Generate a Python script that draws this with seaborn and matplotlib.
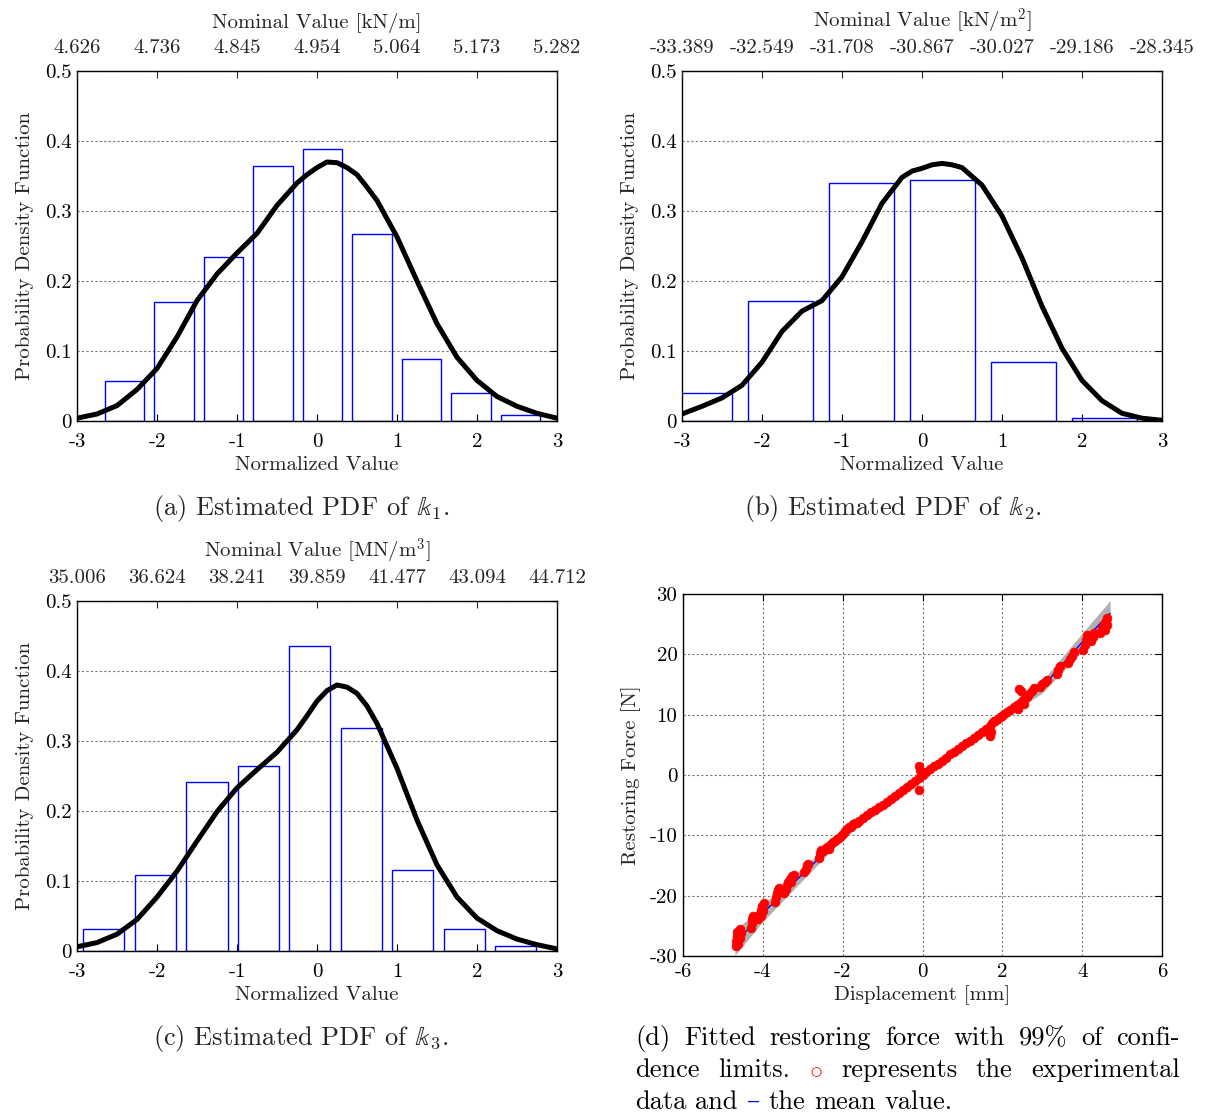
import numpy as np
import pandas as pd
import matplotlib
matplotlib.use('Agg')
import matplotlib.pyplot as plt
import seaborn as sns

# axis ticks shared by the three histograms
norm_ticks = [-3, -2, -1, 0, 1, 2, 3]
pdf_ticks = [0, 0.1, 0.2, 0.3, 0.4, 0.5]
pdf_tick_labels = ['0', '0.1', '0.2', '0.3', '0.4', '0.5']

k1_nominal = ['4.626', '4.736', '4.845', '4.954', '5.064', '5.173', '5.282']
k2_nominal = ['-33.389', '-32.549', '-31.708', '-30.867', '-30.027', '-29.186', '-28.345']
k3_nominal = ['35.006', '36.624', '38.241', '39.859', '41.477', '43.094', '44.712']

# histogram bins (normalized value) and pdf heights
k1_bins = [-2.405, -1.786, -1.167, -0.548, 0.069, 0.686, 1.305, 1.924, 2.543]
k1_hist = [0.057, 0.170, 0.235, 0.364, 0.389, 0.267, 0.089, 0.040, 0.008]
k2_bins = [-2.786, -1.773, -0.760, 0.253, 1.270, 2.283]
k2_hist = [0.040, 0.172, 0.340, 0.345, 0.084, 0.005]
k3_bins = [-2.663, -2.020, -1.375, -0.734, -0.089, 0.552, 1.195, 1.838, 2.480]
k3_hist = [0.031, 0.109, 0.241, 0.264, 0.436, 0.319, 0.116, 0.031, 0.007]

# estimated pdf curves
k1_x = [-3, -2.75, -2.5, -2.25, -2, -1.75, -1.5, -1.25, -1, -0.75, -0.5, -0.25, -0.125, 0,
        0.125, 0.25, 0.375, 0.5, 0.625, 0.75, 1, 1.25, 1.5, 1.75, 2, 2.25, 2.5, 2.75, 3]
k1_curve = [0.004, 0.010, 0.022, 0.045, 0.075, 0.120, 0.172, 0.210, 0.240, 0.268, 0.308, 0.340, 0.352,
            0.362, 0.370, 0.369, 0.362, 0.352, 0.334, 0.315, 0.263, 0.200, 0.139, 0.091, 0.058,
            0.035, 0.021, 0.011, 0.004]
k2_x = [-3, -2.75, -2.5, -2.25, -2, -1.75, -1.5, -1.25, -1, -0.75, -0.5, -0.25, -0.125, 0,
        0.125, 0.25, 0.375, 0.5, 0.75, 1, 1.25, 1.5, 1.75, 2, 2.25, 2.5, 2.75, 3]
k2_curve = [0.010, 0.021, 0.033, 0.051, 0.084, 0.128, 0.157, 0.172, 0.206, 0.256, 0.311, 0.348, 0.357,
            0.361, 0.366, 0.368, 0.366, 0.362, 0.337, 0.293, 0.233, 0.164, 0.104, 0.058, 0.029,
            0.011, 0.004, 0.001]
k3_x = [-3, -2.75, -2.5, -2.25, -2, -1.75, -1.5, -1.25, -1, -0.75, -0.5, -0.25, -0.125, 0,
        0.125, 0.25, 0.375, 0.5, 0.625, 0.75, 1, 1.25, 1.5, 1.75, 2, 2.25, 2.5, 2.75, 3]
k3_curve = [0.006, 0.012, 0.024, 0.045, 0.077, 0.114, 0.157, 0.199, 0.233, 0.259, 0.284, 0.316, 0.336,
            0.357, 0.372, 0.380, 0.377, 0.368, 0.350, 0.325, 0.261, 0.187, 0.123, 0.077, 0.047,
            0.029, 0.017, 0.009, 0.003]

# restoring force: fitted mean and 99% band half width
fit_disp = [-4.7, -4, -3, -2, -1, 0, 1, 2, 3, 4, 4.7]
fit_force = [-27.9, -22.9, -16.4, -10.0, -4.9, 0.0, 4.8, 9.8, 14.6, 22.0, 26.8]
fit_halfwidth = [2.0, 1.4, 1.0, 0.6, 0.35, 0.3, 0.35, 0.6, 1.0, 1.5, 2.1]

# experimental data (mm, N)
exp_disp = [-4.66, -4.66, -4.65, -4.64, -4.62, -4.61, -4.59, -4.57, -4.56, -4.55,
            -4.30, -4.28, -4.26, -4.24,
            -4.11, -4.08, -4.05, -4.02, -3.98, -4.00, -4.04,
            -3.70, -3.68, -3.65, -3.62, -3.60,
            -3.46, -3.43, -3.40, -3.36, -3.32, -3.27, -3.23, -3.30,
            -2.96, -2.93, -2.90, -2.88,
            -2.60, -2.58, -2.55, -2.50, -2.45, -2.40, -2.35, -2.30, -2.25, -2.20, -2.15, -2.10,
            -2.05, -2.00, -1.95, -1.90, -1.85, -1.80, -1.75, -1.70, -1.65, -1.60, -1.50, -1.40,
            -1.30, -1.20, -1.10, -1.00, -0.90, -0.80, -0.70, -0.60, -0.50, -0.40, -0.30, -0.20,
            -0.10, -0.08, -0.10, -0.06, 0.00, 0.10, 0.20, 0.30, 0.40, 0.50, 0.60, 0.70, 0.80,
            0.90, 1.00, 1.10, 1.20, 1.30, 1.40, 1.50, 1.60, 1.68, 1.70, 1.72, 1.75, 1.78,
            1.82, 1.88, 1.94, 2.00, 2.05,
            2.12, 2.20, 2.28, 2.36, 2.44, 2.52, 2.58, 2.40, 2.55, 2.47, 2.42,
            2.62, 2.68, 2.74, 2.80,
            2.95, 3.00, 3.06, 3.12,
            3.36, 3.40, 3.44,
            3.65, 3.70, 3.75, 3.80,
            4.03, 4.06, 4.09, 4.12,
            4.22, 4.26, 4.30,
            4.45, 4.50, 4.55, 4.60, 4.63, 4.58, 4.62]
exp_force = [-28.3, -27.5, -26.7, -26.0, -28.0, -27.2, -26.4, -25.6, -27.0, -26.2,
             -25.4, -24.6, -23.9, -23.4,
             -23.8, -23.0, -22.3, -21.7, -21.2, -22.6, -23.4,
             -21.0, -20.3, -19.6, -19.0, -18.8,
             -19.5, -18.9, -18.2, -17.7, -17.2, -16.8, -16.6, -17.8,
             -16.1, -15.5, -15.0, -14.7,
             -13.8, -13.0, -12.5, -12.6, -12.3, -11.9, -12.2, -11.5, -11.1, -11.0, -10.6, -10.4,
             -10.1, -9.8, -9.2, -9.0, -8.6, -8.7, -8.2, -8.0, -8.0, -7.7, -7.2, -6.7,
             -6.2, -5.8, -5.3, -4.9, -4.4, -3.9, -3.4, -3.0, -2.5, -2.0, -1.5, -1.0,
             -0.5, 1.5, -2.5, 0.9, 0.0, 0.5, 1.0, 1.5, 1.9, 2.4, 2.9, 3.4, 3.8,
             4.3, 4.8, 5.3, 5.7, 6.2, 6.7, 7.2, 7.7, 6.5, 8.1, 7.1, 8.6, 9.0,
             9.0, 9.3, 9.6, 9.8, 10.1,
             10.4, 10.8, 11.2, 11.6, 12.0, 12.4, 12.8, 11.0, 11.8, 13.9, 14.2,
             13.0, 13.5, 14.0, 14.4,
             14.6, 15.0, 15.4, 15.8,
             16.8, 17.4, 18.0,
             18.6, 19.2, 19.8, 20.4,
             20.8, 21.6, 22.4, 23.2,
             22.2, 22.9, 23.6,
             23.6, 24.3, 25.0, 25.6, 26.0, 24.0, 24.8]

sns.set_theme(style='white')
plt.rcParams['font.family'] = ['cmr10', 'DejaVu Serif']
plt.rcParams['mathtext.fontset'] = 'cm'
plt.rcParams['axes.unicode_minus'] = False
plt.rcParams['xtick.direction'] = 'in'
plt.rcParams['ytick.direction'] = 'in'

W, H = 1207, 1117
fig = plt.figure(figsize=(W / 100, H / 100), dpi=100)

FS = 15
LABEL_COL = '#222222'
GRID = dict(color='#777777', linestyle=(0, (2, 2)), linewidth=0.8)


def box(l, t, r, b):
    return [l / W, 1 - b / H, (r - l) / W, (b - t) / H]


def style_axes(ax, xpad):
    for s in ax.spines.values():
        s.set_color('black')
        s.set_linewidth(1.0)
    ax.tick_params(axis='both', which='both', labelsize=FS, length=5, width=0.8,
                   top=False, right=True, colors='black', pad=4)
    ax.tick_params(axis='x', pad=xpad)


def pdf_panel(rect, bins, hist, cx, curve, nominal, unit):
    ax = fig.add_axes(rect)
    sns.barplot(x=bins, y=hist, native_scale=True, width=0.8, fill=False, color='blue',
                saturation=1, linewidth=1.0, errorbar=None, ax=ax)
    sns.lineplot(x=cx, y=curve, color='black', linewidth=3.6, ax=ax)
    ax.set_xlim(-3, 3)
    ax.set_ylim(0, 0.5)
    ax.set_xticks(norm_ticks)
    ax.set_xticklabels([str(t) for t in norm_ticks])
    ax.set_yticks(pdf_ticks)
    ax.set_yticklabels(pdf_tick_labels)
    ax.grid(axis='y', **GRID)
    ax.set_axisbelow(True)
    ax.set_xlabel('Normalized Value', fontsize=FS, color=LABEL_COL, labelpad=3)
    ax.set_ylabel('Probability Density Function', fontsize=FS, color=LABEL_COL, labelpad=8)
    style_axes(ax, 9)
    top = ax.twiny()
    top.set_xlim(-3, 3)
    top.set_xticks(norm_ticks)
    top.set_xticklabels(nominal)
    top.tick_params(axis='x', labelsize=FS, length=5, width=0.8, direction='in', pad=10)
    top.set_xlabel('Nominal Value [' + unit + ']', fontsize=FS, color=LABEL_COL, labelpad=8)
    for s in top.spines.values():
        s.set_visible(False)
    return ax


pdf_panel(box(77, 71, 557, 421), k1_bins, k1_hist, k1_x, k1_curve, k1_nominal, 'kN/m')
pdf_panel(box(682, 71, 1162, 421), k2_bins, k2_hist, k2_x, k2_curve, k2_nominal, r'kN/m$^2$')
pdf_panel(box(77, 601, 557, 951), k3_bins, k3_hist, k3_x, k3_curve, k3_nominal, r'MN/m$^3$')

# restoring force panel
axd = fig.add_axes(box(683, 594, 1162, 956))
fit = pd.DataFrame({'disp': fit_disp, 'force': fit_force, 'hw': fit_halfwidth})
axd.fill_between(fit['disp'], fit['force'] - fit['hw'], fit['force'] + fit['hw'],
                 color='#b0b0b0', linewidth=0, zorder=2)
sns.lineplot(data=fit, x='disp', y='force', color='blue', linewidth=1.0, ax=axd, zorder=3)
sns.scatterplot(x=exp_disp, y=exp_force, color='red', edgecolor='red', s=40, linewidth=0.5,
                ax=axd, zorder=4)
axd.set_xlim(-6, 6)
axd.set_ylim(-30, 30)
axd.set_xticks([-6, -4, -2, 0, 2, 4, 6])
axd.set_yticks([-30, -20, -10, 0, 10, 20, 30])
axd.grid(True, **GRID)
axd.set_axisbelow(True)
axd.set_xlabel('Displacement [mm]', fontsize=FS, color=LABEL_COL, labelpad=3)
axd.set_ylabel('Restoring Force [N]', fontsize=FS, color=LABEL_COL, labelpad=6)
style_axes(axd, 5)
axd.tick_params(top=True)

# captions
CAP = 19
fig.text(301 / W, 1 - 515 / H, r'(a) Estimated PDF of $\mathbb{k}_1$.', fontsize=CAP,
         ha='center', va='baseline')
fig.text(893 / W, 1 - 515 / H, r'(b) Estimated PDF of $\mathbb{k}_2$.', fontsize=CAP,
         ha='center', va='baseline')
fig.text(301 / W, 1 - 1045 / H, r'(c) Estimated PDF of $\mathbb{k}_3$.', fontsize=CAP,
         ha='center', va='baseline')

renderer = fig.canvas.get_renderer()


def caption_line(tokens, base_px, x0=635, x1=1180, justify=True):
    texts = [fig.text(0, 1 - base_px / H, t, color=c, fontsize=CAP, ha='left', va='baseline')
             for t, c in tokens]
    widths = [t.get_window_extent(renderer).width for t in texts]
    if justify:
        gap = (x1 - x0 - sum(widths)) / (len(texts) - 1)
    else:
        gap = 0.333 * CAP * 100 / 72
    x = x0
    for t, w in zip(texts, widths):
        t.set_x(x / W)
        x += w + gap


caption_line([(w, 'black') for w in
              ['(d)', 'Fitted', 'restoring', 'force', 'with', '99%', 'of', 'confi-']], 1045)
caption_line([('dence', 'black'), ('limits.', 'black'), (r'$\circ$', 'red'),
              ('represents', 'black'), ('the', 'black'), ('experimental', 'black')], 1077)
caption_line([('data', 'black'), ('and', 'black'), ('\u2013', 'blue'), ('the', 'black'),
              ('mean', 'black'), ('value.', 'black')], 1109, justify=False)

fig.savefig('out.png', dpi=100)
